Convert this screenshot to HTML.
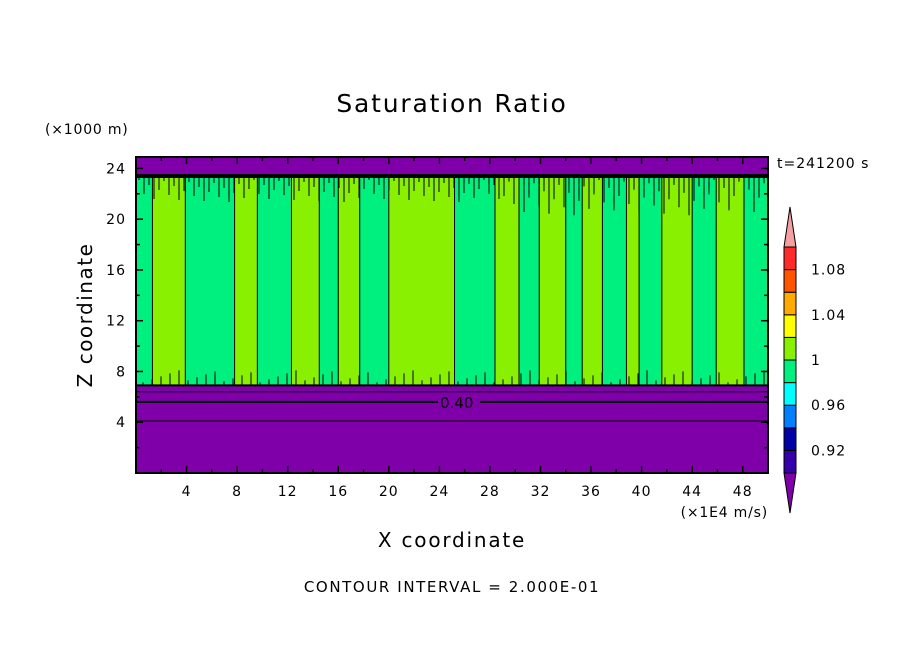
<!DOCTYPE html>
<html><head><meta charset="utf-8"><style>
body{margin:0;background:#fff;}
svg text{font-family:"DejaVu Sans","Liberation Sans",sans-serif;fill:#000;}
</style></head><body>
<svg id="c" width="904" height="654" viewBox="0 0 904 654" xmlns="http://www.w3.org/2000/svg">
<rect width="904" height="654" fill="#fff"/>
<text x="452" y="112" font-size="25" letter-spacing="1.8" text-anchor="middle">Saturation Ratio</text>
<text x="45" y="134" font-size="14" letter-spacing="0.8">(×1000 m)</text>
<text transform="translate(92,315) rotate(-90)" font-size="20" letter-spacing="1.5" text-anchor="middle">Z coordinate</text>
<text x="452" y="547" font-size="20" letter-spacing="1.8" text-anchor="middle">X coordinate</text>
<text x="768" y="517" font-size="14" letter-spacing="0.8" text-anchor="end">(×1E4 m/s)</text>
<text x="452" y="592" font-size="15" letter-spacing="1.6" text-anchor="middle">CONTOUR INTERVAL = 2.000E-01</text>
<text x="777" y="168" font-size="14" letter-spacing="1">t=241200 s</text>
<g id="plot"></g>
<g id="cbar"></g>
</svg>
<script>
// Data
const segStart = [0,1.3,3.9,7.8,9.6,12.3,14.5,16,17.7,20,25.2,28.4,30.3,31.9,34,35.3,36.9,38.8,39.8,41.6,44,45.9,48.1];
const segVal   = [0.99,1.01,0.99,1.01,0.99,1.01,0.99,1.01,0.99,1.01,0.99,1.01,0.99,1.01,0.99,1.01,0.99,1.01,0.99,1.01,0.99,1.01,0.99];
const cloudTop = 23.4, cloudBase = 6.9;
const contourLevels = [6.4, 5.6, 4.1];
const xTicks = [4,8,12,16,20,24,28,32,36,40,44,48];
const yTicks = [4,8,12,16,20,24];
const cbLevels = [0.90,0.92,0.94,0.96,0.98,1.00,1.02,1.04,1.06,1.08,1.10];
const cbColors = ["#3300aa","#0000a8","#0080ff","#00ffff","#00f080","#88f000","#ffff00","#ffaa00","#ff5500","#ff2a2a"];
const cbLabels = ["0.92","0.96","1","1.04","1.08"];

const X0=136,X1=768,Y0=473,Y1=157,XMAX=50,ZMAX=24.9;
const sx=v=>X0+v/XMAX*(X1-X0);
const sy=v=>Y0-v/ZMAX*(Y0-Y1);
const NS="http://www.w3.org/2000/svg";
function mk(tag,attrs,parent){const e=document.createElementNS(NS,tag);for(const k in attrs)e.setAttribute(k,attrs[k]);parent.appendChild(e);return e;}
const P=document.getElementById('plot');
function colorOf(v){for(let i=0;i<cbColors.length;i++){if(v<cbLevels[i+1])return cbColors[i];}return "#f4a0a0";}

let r=mk('rect',{x:X0,y:Y1,width:X1-X0,height:Y0-Y1,fill:'#7f00a8'},P);


for(let i=0;i<segStart.length;i++){
  const a=segStart[i],b=i+1<segStart.length?segStart[i+1]:XMAX;
  const s=mk('rect',{x:sx(a),y:sy(cloudTop),width:sx(b)-sx(a),height:sy(cloudBase)-sy(cloudTop),fill:colorOf(segVal[i])},P);
  
  
  if(i>0){const l=mk('line',{x1:sx(a),x2:sx(a),y1:sy(cloudTop),y2:sy(cloudBase),stroke:'#000','stroke-width':1},P);
    
    }
}
// dark fringe below cloud top (decorative texture)
const fr0=sy(cloudTop);
for(let px=X0+3,k=0;px<X1-2;px+=5,k++){
  const len=4+((k*37)%23)*(px>500?1.6:1);
  const f=mk('line',{x1:px,x2:px,y1:fr0,y2:fr0+len,stroke:'#000','stroke-width':1},P);
  
  
}
for(let px=X0+7,k=0;px<X1-2;px+=9,k++){
  const len=3+((k*29)%13);
  const f=mk('line',{x1:px,x2:px,y1:sy(cloudBase)-len,y2:sy(cloudBase),stroke:'#000','stroke-width':1},P);
  
  
}
let tl=mk('line',{x1:X0,x2:X1,y1:sy(cloudTop),y2:sy(cloudTop),stroke:'#000','stroke-width':4},P);


let bl=mk('line',{x1:X0,x2:X1,y1:sy(cloudBase),y2:sy(cloudBase),stroke:'#000','stroke-width':2},P);


contourLevels.forEach((z,i)=>{
  const l=mk('line',{x1:X0,x2:X1,y1:sy(z),y2:sy(z),stroke:'#000','stroke-width':i==1?2:1},P);
  
  
});
let lb=mk('rect',{x:438,y:sy(5.6)-8,width:42,height:15,fill:'#7f00a8'},P);


let lt=mk('text',{x:440,y:sy(5.6)+6,'font-size':15},P);lt.textContent='0.40';


let fr=mk('rect',{x:X0,y:Y1,width:X1-X0,height:Y0-Y1,fill:'none',stroke:'#000','stroke-width':2},P);


for(let v=2;v<XMAX;v+=2){
  mk('line',{x1:sx(v),x2:sx(v),y1:Y0,y2:Y0-(v%4?4:7),stroke:'#000','stroke-width':1.5},P);
  mk('line',{x1:sx(v),x2:sx(v),y1:Y1,y2:Y1+(v%4?4:7),stroke:'#000','stroke-width':1.5},P);
}
for(let v=2;v<ZMAX;v+=2){
  mk('line',{x1:X0,x2:X0+(v%4?4:7),y1:sy(v),y2:sy(v),stroke:'#000','stroke-width':1.5},P);
  mk('line',{x1:X1,x2:X1-(v%4?4:7),y1:sy(v),y2:sy(v),stroke:'#000','stroke-width':1.5},P);
}
xTicks.forEach(v=>{const t=mk('text',{x:sx(v),y:496,'font-size':14,'letter-spacing':1,'text-anchor':'middle'},P);t.textContent=v;
  
  });
yTicks.forEach(v=>{const t=mk('text',{x:126,y:sy(v)+5,'font-size':14,'letter-spacing':1,'text-anchor':'end'},P);t.textContent=v;
  
  });
const C=document.getElementById('cbar');
const CX=784,CW=12,CT=247,CB=473,bh=(CB-CT)/cbColors.length;
cbColors.forEach((c,i)=>{const b=mk('rect',{x:CX,y:CB-(i+1)*bh,width:CW,height:bh,fill:c,stroke:'#000','stroke-width':1},C);
  
  });
let up=mk('polygon',{points:`${CX},${CT} ${CX+CW},${CT} ${CX+CW/2},${CT-40}`,fill:'#f4a0a0',stroke:'#000'},C);


let dn=mk('polygon',{points:`${CX},${CB} ${CX+CW},${CB} ${CX+CW/2},${CB+40}`,fill:'#7f00a8',stroke:'#000'},C);


cbLabels.forEach(s=>{const v=parseFloat(s);const y=CB-(v-cbLevels[0])/(cbLevels[10]-cbLevels[0])*(CB-CT);
  const t=mk('text',{x:811,y:y+5,'font-size':14,'letter-spacing':1},C);t.textContent=s;
  
  });
</script>
</body></html>
